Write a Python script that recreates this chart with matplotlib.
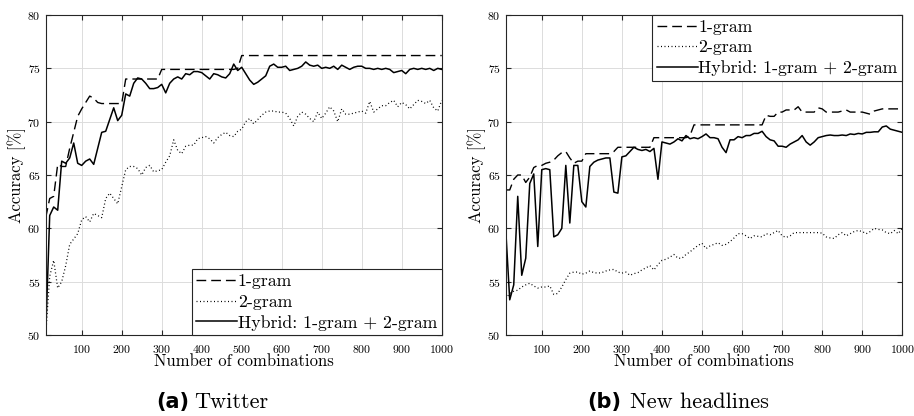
import numpy as np
import matplotlib
matplotlib.use("Agg")
import matplotlib.pyplot as plt

plt.rcParams['font.family'] = 'serif'
plt.rcParams['font.serif'] = ['cmr10']
plt.rcParams['axes.formatter.use_mathtext'] = True

n_comb = np.arange(10, 1001, 10)

# (a) Twitter
tw_uni = [61.0, 62.8, 63.0, 66.0, 65.8, 65.8, 67.5, 69.0, 70.5, 71.2,
          71.8, 72.4, 72.2, 71.8, 71.7, 71.7, 71.7, 71.7, 71.7, 71.7,
          74.0, 74.0, 74.0, 74.0, 74.0, 74.0, 74.0, 74.0, 74.0, 74.9,
          74.9, 74.9, 74.9, 74.9, 74.9, 74.9, 74.9, 74.9, 74.9, 74.9,
          74.9, 74.9, 74.9, 74.9, 74.9, 74.9, 74.9, 74.9, 75.0, 76.2,
          76.2, 76.2, 76.2, 76.2, 76.2, 76.2, 76.2, 76.2, 76.2, 76.2,
          76.2, 76.2, 76.2, 76.2, 76.2, 76.2, 76.2, 76.2, 76.2, 76.2,
          76.2, 76.2, 76.2, 76.2, 76.2, 76.2, 76.2, 76.2, 76.2, 76.2,
          76.2, 76.2, 76.2, 76.2, 76.2, 76.2, 76.2, 76.2, 76.2, 76.2,
          76.2, 76.2, 76.2, 76.2, 76.2, 76.2, 76.2, 76.2, 76.2, 76.2]
tw_bi = [50.0, 55.5, 57.0, 54.4, 55.0, 56.5, 58.5, 59.0, 59.5, 60.8,
         61.1, 60.6, 61.4, 61.2, 61.0, 62.8, 63.3, 62.8, 62.3, 63.9,
         65.5, 65.8, 65.8, 65.6, 65.0, 65.7, 65.9, 65.3, 65.4, 65.5,
         66.2, 66.8, 68.3, 67.3, 67.0, 67.7, 67.8, 67.8, 68.4, 68.5,
         68.6, 68.4, 68.0, 68.5, 68.8, 69.0, 68.7, 68.6, 69.1, 69.3,
         70.0, 70.3, 69.8, 70.2, 70.6, 70.9, 71.0, 71.0, 70.9, 70.9,
         70.8, 70.3, 69.6, 70.5, 70.9, 70.7, 70.3, 70.0, 70.9, 70.3,
         70.8, 71.4, 71.0, 70.0, 71.2, 70.7, 70.7, 70.8, 70.9, 71.0,
         70.8, 71.9, 70.9, 71.2, 71.5, 71.5, 71.8, 72.0, 71.4, 71.8,
         71.6, 71.2, 71.6, 72.0, 71.9, 71.7, 72.0, 71.3, 71.0, 72.0]
tw_hyb = [50.0, 61.2, 62.0, 61.7, 66.3, 66.1, 66.6, 68.0, 66.1, 65.9,
          66.3, 66.5, 66.0, 67.5, 69.0, 69.1, 70.2, 71.3, 70.1, 70.6,
          72.6, 72.4, 73.6, 74.1, 74.0, 73.6, 73.1, 73.1, 73.2, 73.5,
          72.7, 73.6, 74.0, 74.2, 74.0, 74.5, 74.4, 74.7, 74.7, 74.6,
          74.3, 74.0, 74.5, 74.4, 74.2, 74.1, 74.5, 75.4, 74.8, 75.1,
          74.5, 73.9, 73.5, 73.7, 74.0, 74.3, 75.2, 75.4, 75.1, 75.1,
          75.2, 74.8, 74.9, 75.0, 75.2, 75.6, 75.3, 75.2, 75.3, 75.0,
          75.1, 75.0, 75.2, 74.9, 75.3, 75.1, 74.9, 75.1, 75.2, 75.2,
          75.0, 75.0, 74.9, 75.0, 74.9, 75.0, 74.9, 74.6, 74.7, 74.8,
          74.5, 74.9, 75.0, 74.9, 75.0, 74.9, 75.0, 74.8, 75.0, 74.9]

# (b) New headlines
nh_uni = [63.6, 63.6, 64.6, 65.0, 65.0, 64.3, 64.8, 65.7, 65.9, 65.9,
          66.1, 66.2, 66.4, 66.8, 67.1, 67.2, 66.6, 66.1, 66.3, 66.3,
          67.0, 67.0, 67.0, 67.0, 67.0, 67.0, 67.0, 67.2, 67.6, 67.6,
          67.6, 67.6, 67.6, 67.6, 67.6, 67.6, 67.6, 68.5, 68.5, 68.5,
          68.5, 68.5, 68.5, 68.5, 68.5, 68.5, 68.7, 69.7, 69.7, 69.7,
          69.7, 69.7, 69.7, 69.7, 69.7, 69.7, 69.7, 69.7, 69.7, 69.7,
          69.7, 69.7, 69.7, 69.7, 69.7, 70.6, 70.5, 70.5, 70.9, 70.9,
          71.1, 71.1, 71.1, 71.4, 70.9, 70.9, 70.9, 70.9, 71.3, 71.2,
          70.9, 70.9, 70.9, 70.9, 71.0, 71.1, 70.9, 70.9, 70.9, 70.9,
          70.8, 70.7, 71.0, 71.1, 71.2, 71.2, 71.2, 71.2, 71.2, 71.2]
nh_bi = [53.4, 53.9, 54.1, 54.2, 54.5, 54.7, 54.85, 54.6, 54.4, 54.5,
         54.5, 54.6, 53.8, 53.9, 54.5, 55.2, 55.8, 55.9, 55.9, 55.7,
         55.8, 56.0, 55.85, 55.8, 55.85, 56.0, 56.1, 56.15, 55.9, 55.8,
         55.9, 55.6, 55.75, 55.85, 56.1, 56.3, 56.5, 56.1, 56.6, 57.0,
         57.1, 57.3, 57.55, 57.2, 57.2, 57.55, 57.8, 58.1, 58.4, 58.6,
         58.1, 58.35, 58.5, 58.65, 58.4, 58.5, 58.75, 59.1, 59.5, 59.5,
         59.3, 59.05, 59.3, 59.25, 59.2, 59.5, 59.4, 59.6, 59.8, 59.3,
         59.15, 59.3, 59.6, 59.6, 59.6, 59.6, 59.6, 59.6, 59.6, 59.55,
         59.2, 59.1, 59.05, 59.4, 59.6, 59.3, 59.5, 59.7, 59.8, 59.7,
         59.5, 59.7, 60.0, 59.9, 59.85, 59.6, 59.5, 59.8, 59.5, 60.0]
nh_hyb = [59.9, 53.3, 54.7, 63.0, 55.6, 57.2, 64.2, 65.1, 58.3, 65.5,
          65.6, 65.5, 59.2, 59.4, 60.0, 65.9, 60.5, 65.9, 65.9, 62.5,
          62.0, 65.8, 66.2, 66.4, 66.5, 66.6, 66.6, 63.4, 63.3, 66.7,
          66.8, 67.2, 67.6, 67.4, 67.3, 67.4, 67.2, 67.5, 64.6, 68.1,
          68.0, 67.9, 68.1, 68.4, 68.2, 68.7, 68.4, 68.5, 68.4, 68.6,
          68.85, 68.5, 68.5, 68.4, 67.6, 67.1, 68.3, 68.3, 68.6, 68.5,
          68.7, 68.7, 68.9, 68.9, 69.1, 68.6, 68.3, 68.2, 67.7, 67.7,
          67.6, 67.9, 68.1, 68.3, 68.7, 68.1, 67.8, 68.1, 68.5, 68.6,
          68.7, 68.75, 68.7, 68.7, 68.75, 68.7, 68.85, 68.8, 68.9, 68.85,
          69.0, 69.0, 69.05, 69.05, 69.5, 69.6, 69.3, 69.2, 69.1, 69.0]

labels = ['1-gram', '2-gram', 'Hybrid: 1-gram + 2-gram']
x_ticks = list(range(100, 1001, 100))
y_ticks = [50, 55, 60, 65, 70, 75, 80]
box_col = '#262626'


def draw_panel(ax, uni, bi, hyb, legend_loc):
    ax.plot(n_comb, uni, color='k', lw=1.0, linestyle=(0, (7, 3.6)), label=labels[0])
    ax.plot(n_comb, bi, color='k', lw=0.9, linestyle=(0, (0.8, 2.0)), label=labels[1])
    ax.plot(n_comb, hyb, color='k', lw=1.1, label=labels[2])
    ax.set_xlim(10, 1000)
    ax.set_ylim(50, 80)
    ax.set_xticks(x_ticks)
    ax.set_yticks(y_ticks)
    ax.grid(True, color='#dcdcdc', lw=0.7)
    ax.set_axisbelow(True)
    ax.tick_params(direction='in', top=True, right=True, length=3.5,
                   color=box_col, labelsize=8.5)
    ax.tick_params(axis='x', pad=6)
    for s in ax.spines.values():
        s.set_color(box_col)
        s.set_linewidth(0.8)
    ax.set_xlabel('Number of combinations', fontsize=12, labelpad=-1)
    ax.set_ylabel('Accuracy [%]', fontsize=12, labelpad=1)
    leg = ax.legend(loc=legend_loc, fontsize=12.8, handlelength=2.3,
                    handletextpad=0.05, borderpad=0.25, borderaxespad=0,
                    labelspacing=0.28, fancybox=False, framealpha=1)
    leg.get_frame().set_edgecolor(box_col)
    leg.get_frame().set_linewidth(0.8)


fig = plt.figure(figsize=(9.14, 4.16), dpi=100)
ax_a = fig.add_axes([0.05, 0.1947, 0.4333, 0.7692])
ax_b = fig.add_axes([0.5533, 0.1947, 0.4339, 0.7692])

draw_panel(ax_a, tw_uni, tw_bi, tw_hyb, 'lower right')
draw_panel(ax_b, nh_uni, nh_bi, nh_hyb, 'upper right')

# sub-captions
fig.text(189 / 914, 1 - 402 / 416, '(a)', ha='right', va='center',
         fontsize=15, fontweight='bold', family='DejaVu Sans')
fig.text(194 / 914, 1 - 402 / 416, 'Twitter', ha='left', va='center', fontsize=16)
fig.text(621 / 914, 1 - 402 / 416, '(b)', ha='right', va='center',
         fontsize=15, fontweight='bold', family='DejaVu Sans')
fig.text(630 / 914, 1 - 402 / 416, 'New headlines', ha='left', va='center', fontsize=16)

fig.savefig('out.png', dpi=100)
